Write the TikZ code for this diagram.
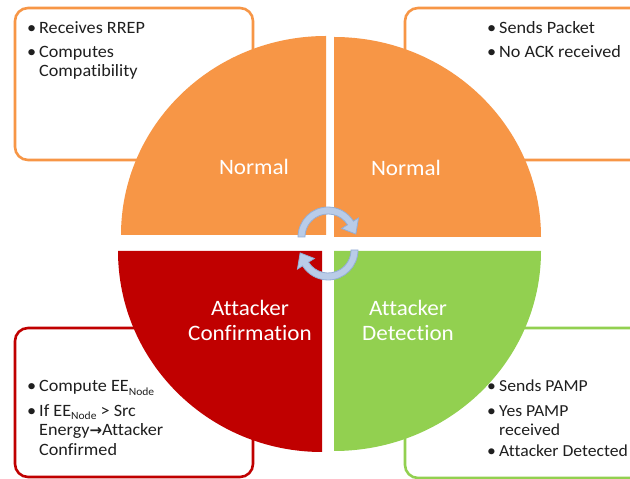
\documentclass[tikz,border=0pt]{standalone}
\usepackage{fontspec}
\setmainfont{Carlito}[FakeStretch=1.05, Ligatures=NoCommon]
\newfontfamily\symfont{DejaVu Sans}
\usepackage{array}
\definecolor{qorange}{HTML}{F79646}
\definecolor{qred}{HTML}{C00000}
\definecolor{qgreen}{HTML}{92D050}
\definecolor{arrowblue}{HTML}{B9CCE8}
\definecolor{arrowedge}{HTML}{93AED6}
\newcommand\nodesub{\raisebox{-3.5pt}{\fontsize{11}{11}\selectfont Node}}
\newcommand\boldarrow{{\symfont\bfseries\fontsize{15}{15}\selectfont →}}
\begin{document}
\begin{tikzpicture}[x=1pt,y=1pt,
  infobox/.style={rounded corners=13pt, line width=2.6pt, fill=white},
  statelabel/.style={text=white, font=\fontsize{22}{25}\selectfont, align=center, inner sep=0},
  bullets/.style={anchor=base west, inner sep=0, text=black!88, font=\fontsize{17.3}{19.5}\selectfont},
  cyc/.style={fill=arrowblue, draw=arrowedge, line width=0.8pt}
]
\useasboundingbox (0,0) rectangle (630,479);
\fill[white] (0,0) rectangle (630,479);
\clip (0,0) rectangle (630,479);

% description boxes behind the quarters
\draw[infobox, draw=qorange] (15,471) rectangle (253,319);
\draw[infobox, draw=qorange] (405,471) rectangle (655,319);
\draw[infobox, draw=qred]    (15,151) rectangle (253,2);
\draw[infobox, draw=qgreen]  (405,151) rectangle (655,1);

% box texts
\node[bullets] (t1) at (27,445) {\begin{tabular}[t]{@{}p{12pt}@{}l@{}}
\textbullet & Receives RREP\\[4pt]
\textbullet & Computes\\
 & Compatibility
\end{tabular}};
\node[bullets] (t2) at (487,445) {\begin{tabular}[t]{@{}p{12pt}@{}l@{}}
\textbullet & Sends Packet\\[4pt]
\textbullet & No ACK received
\end{tabular}};
\node[bullets] (t3) at (27,87) {\begin{tabular}[t]{@{}p{12pt}@{}l@{}}
\textbullet & Compute EE\nodesub\\[5pt]
\textbullet & If EE\nodesub{} > Src\\
 & Energy\boldarrow Attacker\\
 & Confirmed
\end{tabular}};
\node[bullets, font=\fontsize{16.8}{19.5}\selectfont] (t4) at (487,87) {\begin{tabular}[t]{@{}p{12pt}@{}l@{}}
\textbullet & Sends PAMP\\[5pt]
\textbullet & Yes PAMP\\
 & received\\[1pt]
\textbullet & Attacker Detected
\end{tabular}};

% the four quarters of the cycle
\fill[qorange] (326,244) -- ++(-205,0) arc[start angle=180, end angle=90, x radius=205, y radius=199] -- cycle;
\fill[qorange] (334,242) -- ++(0,200) arc[start angle=90, end angle=0, x radius=207, y radius=200] -- cycle;
\fill[qred]    (322,228) -- ++(-204,0) arc[start angle=180, end angle=270, x radius=204, y radius=201] -- cycle;
\fill[qgreen]  (334,228) -- ++(207,0) arc[start angle=0, end angle=-90, x radius=207, y radius=200] -- cycle;

% state names
\node[statelabel] (n1) at (254,312) {Normal};
\node[statelabel] (n2) at (406,311) {Normal};
\node[statelabel] (n3) at (250,158.5) {Attacker\\Confirmation};
\node[statelabel] (n4) at (408,158.5) {Attacker\\Detection};

% circular arrows in the middle
\begin{scope}[shift={(328,242)}]
\filldraw[cyc] (180:30) arc[start angle=180, end angle=32, radius=30]
  -- (32:36) -- (6:28) -- (32:16) -- (32:23)
  arc[start angle=32, end angle=180, radius=23] -- cycle;
\end{scope}
\begin{scope}[shift={(328,229)}]
\filldraw[cyc] (0:30) arc[start angle=0, end angle=-148, radius=30]
  -- (-148:36) -- (-174:28) -- (-148:16) -- (-148:23)
  arc[start angle=-148, end angle=0, radius=23] -- cycle;
\end{scope}
\end{tikzpicture}
\end{document}
